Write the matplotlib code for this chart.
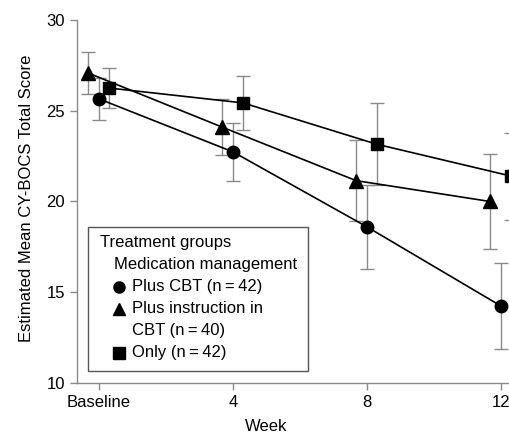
import matplotlib.pyplot as plt
from matplotlib.patches import Rectangle

plt.rcParams['font.family'] = ['Liberation Sans', 'DejaVu Sans']

# 数据
weeks = [0, 4, 8, 12]
week_labels = ['Baseline', '4', '8', '12']
offsets = {'cbt': 0.0, 'instr': -0.33, 'only': 0.3}

cbt_mean = [25.65, 22.73, 18.6, 14.24]
cbt_err = [1.15, 1.6, 2.3, 2.35]
instr_mean = [27.08, 24.1, 21.15, 20.0]
instr_err = [1.15, 1.55, 2.25, 2.6]
only_mean = [26.25, 25.43, 23.15, 21.4]
only_err = [1.1, 1.5, 2.25, 2.4]

fig = plt.figure(figsize=(5.09, 4.36), dpi=100)
ax = fig.add_axes([0.1513, 0.1216, 0.8487, 0.8326])

grey = '#8a8a8a'
series = [
    (instr_mean, instr_err, offsets['instr'], '^', 9.5),
    (only_mean, only_err, offsets['only'], 's', 8.5),
    (cbt_mean, cbt_err, offsets['cbt'], 'o', 9),
]
for mean, err, off, mk, ms in series:
    xs = [w + off for w in weeks]
    ax.errorbar(xs, mean, yerr=err, fmt='none', ecolor=grey, elinewidth=1.0,
                capsize=5, capthick=1.0, clip_on=False, zorder=2)
    ax.plot(xs, mean, '-', color='black', linewidth=1.2, clip_on=False, zorder=3)
    ax.plot(xs, mean, mk, color='black', markersize=ms, clip_on=False, zorder=4)

ax.set_xlim(-0.66, 12.24)
ax.set_ylim(10, 30)
ax.set_xticks(weeks)
ax.set_xticklabels(week_labels)
ax.set_yticks([10, 15, 20, 25, 30])

for s in ['top', 'right']:
    ax.spines[s].set_visible(False)
for s in ['left', 'bottom']:
    ax.spines[s].set_color(grey)
    ax.spines[s].set_linewidth(1.0)
ax.tick_params(colors=grey, labelcolor='black', labelsize=12, length=5, width=1.0)

ax.set_xlabel('Week', fontsize=12)
ax.set_ylabel('Estimated Mean CY-BOCS Total Score', fontsize=12)
ax.xaxis.set_label_coords(0.4375, -0.121)
ax.xaxis.label.set_va('center')
ax.yaxis.set_label_coords(-0.116, 0.51)
ax.yaxis.label.set_va('center')

# 图例（手动绘制）
def fx(px):
    return (px - 77) / (509 - 77)
def fy(py):
    return (383 - py) / (383 - 20)

ax.add_patch(Rectangle((fx(88), fy(371)), fx(308) - fx(88), fy(227) - fy(371),
                       transform=ax.transAxes, facecolor='white', edgecolor='#555555',
                       linewidth=1.0, zorder=5))
ax.text(fx(100), fy(243), 'Treatment groups', transform=ax.transAxes, fontsize=12,
        va='center', ha='left', zorder=6)
ax.text(fx(114), fy(265), 'Medication management', transform=ax.transAxes, fontsize=12,
        va='center', ha='left', zorder=6)
legend_rows = [('o', 'Plus CBT (n\u2009=\u200942)', 287),
               ('^', 'Plus instruction in', 309),
               (None, 'CBT (n\u2009=\u200940)', 331),
               ('s', 'Only (n\u2009=\u200942)', 353)]
for mk, txt, py in legend_rows:
    if mk:
        ax.plot([fx(119)], [fy(py)], mk, color='black', markersize=8,
                transform=ax.transAxes, clip_on=False, zorder=6)
    ax.text(fx(132), fy(py), txt, transform=ax.transAxes, fontsize=12,
            va='center', ha='left', zorder=6)

plt.savefig('out.png', dpi=100, facecolor='white')
